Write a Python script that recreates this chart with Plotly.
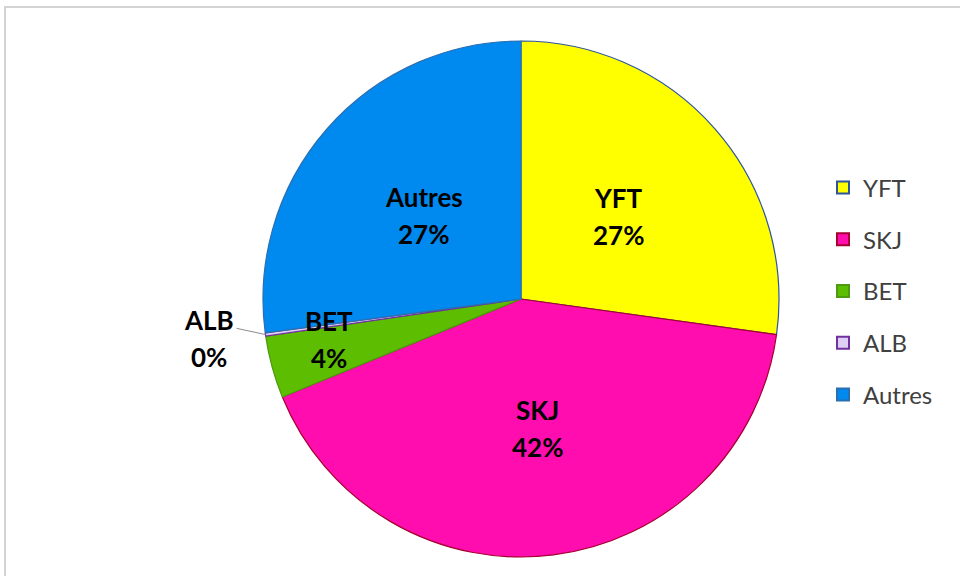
import math
import plotly.graph_objects as go

# ---- data ----
categories = ["YFT", "SKJ", "BET", "ALB", "Autres"]
values = [27.2, 41.6, 3.9, 0.2, 27.1]
fill_colors = ["#FFFF00", "#FF0DAF", "#5DBD00", "#DCCFF3", "#0089EF"]
edge_colors = ["#2F5597", "#A5002F", "#4E9A10", "#7030A0", "#2A6FB0"]

W, H = 960, 576
CX, CY, R = 521, 299, 258  # pie centre / radius in pixels

FONT = "Lato, Carlito, 'Open Sans', sans-serif"

fig = go.Figure()
fig.add_trace(go.Pie(
    labels=categories,
    values=values,
    sort=False,
    direction="clockwise",
    rotation=0,
    marker=dict(colors=fill_colors, line=dict(color=edge_colors, width=1.2)),
    textinfo="none",
    hoverinfo="label+percent",
    showlegend=False,
    domain=dict(x=[(CX - R) / W, (CX + R) / W], y=[1 - (CY + R) / H, 1 - (CY - R) / H]),
))

# legend through dummy traces (to control spacing)
for i, (c, fc, ec) in enumerate(zip(categories, fill_colors, edge_colors)):
    fig.add_trace(go.Scatter(
        x=[None], y=[None], mode="markers", name=c,
        marker=dict(symbol="square", size=14, color=fc, line=dict(color=ec, width=1.5)),
        legendgroup=c, showlegend=True,
    ))

# labels placed from the data (mid-angle of each slice)
total = sum(values)
cum = 0.0
annotations = []
for c, v in zip(categories, values):
    pct = v / total
    mid = (cum + pct / 2) * 2 * math.pi
    cum += pct
    text_pct = f"{round(pct * 100)}%"
    sx, sy = math.sin(mid), -math.cos(mid)
    if pct < 0.01:
        # outside label with leader line
        px, py = CX + sx * R, CY + sy * R
        tx, ty = 209, 338
        annotations.append(dict(
            x=px / W, y=1 - py / H, xref="paper", yref="paper",
            ax=tx - px + 26, ay=ty - py - 10, axref="pixel", ayref="pixel",
            text="", showarrow=True, arrowhead=0, arrowwidth=1, arrowcolor="#8c8c8c",
        ))
        lx, ly = tx, ty
    elif pct < 0.1:
        f = 0.76
        lx, ly = CX + sx * R * f - 3, CY + sy * R * f - 11
    else:
        f = 0.5
        lx, ly = CX + sx * R * f, CY + sy * R * f + 2
    for line, dy in ((c, -18.5), (text_pct, 18.5)):
        annotations.append(dict(
            x=lx / W, y=1 - (ly + dy) / H, xref="paper", yref="paper",
            text=f"<b>{line}</b>", showarrow=False,
            font=dict(family=FONT, size=26, color="#000000"),
            xanchor="center", yanchor="middle",
        ))

fig.update_layout(
    width=W, height=H,
    margin=dict(l=0, r=0, t=0, b=0),
    paper_bgcolor="white", plot_bgcolor="white",
    xaxis=dict(visible=False), yaxis=dict(visible=False),
    legend=dict(
        x=823 / W, y=1 - 291 / H, xanchor="left", yanchor="middle",
        font=dict(family=FONT, size=24, color="#404040"),
        traceorder="grouped", tracegroupgap=17.5,
        itemsizing="constant", bgcolor="rgba(0,0,0,0)",
    ),
    annotations=annotations,
    shapes=[dict(type="rect", xref="paper", yref="paper",
                 x0=5 / W, x1=1.05, y0=-0.05, y1=1 - 7 / H,
                 line=dict(color="#D3D3D3", width=2), fillcolor="rgba(0,0,0,0)")],
)

fig.write_html("out.html", config={"displayModeBar": False},
               post_script="document.body.style.margin='0';")
